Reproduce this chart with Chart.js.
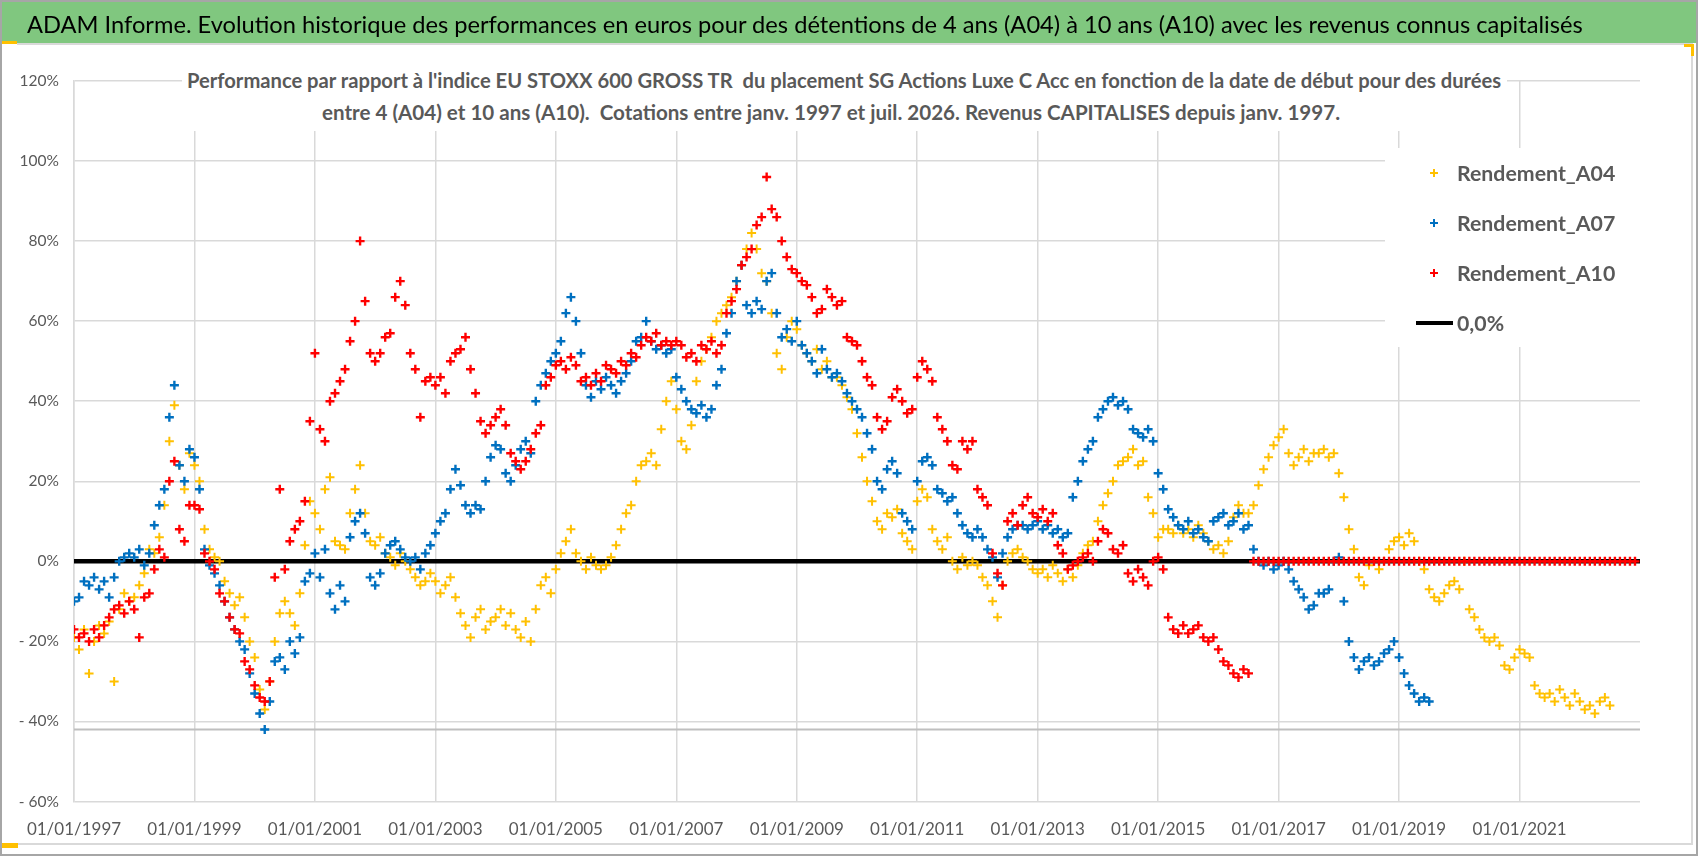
<!DOCTYPE html>
<html lang="fr">
<head>
<meta charset="UTF-8">
<title>ADAM Informe - Rendements A04 / A07 / A10</title>
<script src="https://cdn.jsdelivr.net/npm/chart.js"></script>
<style>
  html, body { margin: 0; padding: 0; background: #fff; }
  #page { position: relative; width: 1698px; height: 856px; overflow: hidden; background: #fff; }
  #graphique { position: absolute; left: 0; top: 0; width: 1698px; height: 856px; }
  .police { font-family: Lato, "Open Sans", sans-serif; }
  #bandeau { position: absolute; left: 2px; top: 2px; width: 1694px; height: 41px; background: #80c77f; line-height: 44px; white-space: pre; color: #000; }
  #bandeau span { position: absolute; left: 25px; font-size: 26px; }
  .sous-titre { position: absolute; background: #fff; white-space: pre; color: #595959; font-weight: bold; box-sizing: border-box; }
  .sous-titre span { font-size: 23px; }
  #st1 { left: 182px; top: 63px; width: 1325px; height: 35px; line-height: 34px; padding-left: 5px; }
  #st2 { left: 182px; top: 98px; width: 1325px; height: 33px; line-height: 29px; padding-left: 140px; }
  .trait { position: absolute; background: #d9d9d9; }
  .poignee { position: absolute; background: #ffc000; }
  #cadre { position: absolute; left: 0; top: 0; width: 1698px; height: 856px; box-sizing: border-box; border: 2px solid #a6a6a6; pointer-events: none; }
</style>
</head>
<body>
<div id="page">
  <canvas id="graphique" width="1698" height="856"></canvas>
  <div id="bandeau" class="police"><span id="titre">ADAM Informe. Evolution historique des performances en euros pour des détentions de 4 ans (A04) à 10 ans (A10) avec les revenus connus capitalisés</span></div>
  <div id="st1" class="sous-titre police"><span>Performance par rapport à l'indice EU STOXX 600 GROSS TR  du placement SG Actions Luxe C Acc en fonction de la date de début pour des durées</span></div>
  <div id="st2" class="sous-titre police"><span>entre 4 (A04) et 10 ans (A10).  Cotations entre janv. 1997 et juil. 2026. Revenus CAPITALISES depuis janv. 1997.</span></div>
  <div class="trait" style="left:17px; top:43px; width:1676px; height:2px;"></div>
  <div class="trait" style="left:1691px; top:43px; width:2px; height:802px;"></div>
  <div class="trait" style="left:0; top:843px; width:1693px; height:2px;"></div>
  <div class="poignee" style="left:0; top:41px; width:17px; height:3px;"></div>
  <div class="poignee" style="left:0; top:843px; width:18px; height:5px;"></div>
  <div class="poignee" style="left:1684px; top:44px; width:10px; height:3px;"></div>
  <div class="poignee" style="left:1691px; top:44px; width:3px; height:12px;"></div>
  <div id="cadre"></div>
</div>
<script>
    // Premiere valeur = janvier 1997, puis une valeur par mois (en %)
    const debut = 1997;

    // Rendement_A04 (jaune)
    const rendementA04 = [
        -19, -22, -17, -28, -20, -16, -18, -15, -30, -12, -8, -10,   // 1997
        -9, -6, -3, 3, 2, 6, 14, 30, 39, 24, 18, 27,                 // 1998
        24, 20, 8, 3, 1, 0, -5, -8, -11, -9, -14, -20,               // 1999
        -24, -32, -37, -30, -20, -13, -10, -13, -16, -8, 4, 15,      // 2000
        12, 8, 18, 21, 5, 4, 3, 12, 18, 24, 12, 5,                   // 2001
        4, 6, 2, 1, -1, 2, 0, -2, -4, -6, -5, -3,                    // 2002
        -5, -8, -6, -4, -9, -13, -16, -19, -14, -12, -17, -15,       // 2003
        -14, -12, -16, -13, -17, -19, -15, -20, -12, -6, -4, -8,     // 2004
        -2, 2, 5, 8, 2, 0, -2, 1, -1, -2, -1, 1,                     // 2005
        4, 8, 12, 14, 20, 24, 25, 27, 24, 33, 40, 45,                // 2006
        38, 30, 28, 34, 45, 50, 53, 56, 60, 62, 64, 66,              // 2007
        70, 74, 78, 82, 78, 72, 70, 62, 52, 48, 56, 60,              // 2008
        58, 54, 52, 50, 53, 48, 50, 46, 46, 44, 41, 38,              // 2009
        32, 26, 20, 15, 10, 8, 12, 11, 13, 7, 5, 3,                  // 2010
        15, 18, 16, 8, 5, 3, 6, 0, -2, 1, -1, 0,                     // 2011
        -1, -4, -6, -10, -14, -6, 0, 2, 3, 1, 0, -2,                 // 2012
        -3, -2, -4, -1, -3, -5, -2, -4, -1, 2, 4, 5,                 // 2013
        10, 14, 17, 20, 24, 25, 26, 28, 24, 25, 16, 12,              // 2014
        6, 8, 8, 7, 9, 7, 8, 6, 9, 7, 5, 3,                          // 2015
        4, 2, 5, 11, 14, 12, 12, 14, 19, 23, 26, 29,                 // 2016
        31, 33, 27, 24, 26, 28, 25, 27, 27, 28, 26, 27,              // 2017
        22, 16, 8, 3, -4, -6, -1, 0, -2, 0, 3, 5,                    // 2018
        6, 4, 7, 5, 0, -2, -7, -9, -10, -8, -6, -5,                  // 2019
        -7, 0, -12, -14, -17, -19, -20, -19, -21, -26, -27, -24,     // 2020
        -22, -23, -24, -31, -33, -34, -33, -35, -32, -34, -36, -33,  // 2021
        -35, -37, -36, -38, -35, -34, -36                            // 2022
    ];

    // Rendement_A07 (bleu)
    const rendementA07 = [
        -10, -9, -5, -6, -4, -7, -5, -9, -4, 0, 1, 2,                // 1997
        1, 3, -1, 2, 9, 14, 18, 36, 44, 24, 20, 28,                  // 1998
        26, 18, 3, -1, -3, -6, -10, -14, -17, -20, -22, -28,         // 1999
        -33, -38, -42, -35, -25, -24, -27, -20, -23, -19, -5, -3,    // 2000
        2, -4, 3, -8, -12, -6, -10, 6, 10, 12, 7, -4,                // 2001
        -6, -3, 2, 4, 5, 3, 1, 0, 1, -2, 2, 4,                       // 2002
        7, 10, 12, 18, 23, 19, 14, 12, 14, 13, 20, 26,               // 2003
        29, 28, 22, 20, 24, 28, 30, 27, 40, 44, 47, 50,              // 2004
        52, 55, 62, 66, 60, 52, 44, 41, 45, 43, 46, 44,              // 2005
        42, 45, 47, 50, 55, 56, 60, 55, 53, 54, 52, 53,              // 2006
        46, 43, 40, 38, 37, 39, 36, 38, 44, 48, 57, 62,              // 2007
        70, 74, 64, 62, 65, 63, 70, 72, 62, 56, 58, 55,              // 2008
        60, 54, 52, 50, 47, 53, 48, 46, 47, 45, 42, 40,              // 2009
        38, 36, 32, 28, 20, 18, 23, 25, 22, 12, 10, 8,               // 2010
        20, 25, 26, 24, 18, 17, 15, 16, 12, 9, 7, 6,                 // 2011
        8, 6, 3, 1, -4, 2, 6, 8, 9, 9, 8, 9,                         // 2012
        10, 8, 9, 7, 8, 6, 7, 16, 20, 25, 28, 30,                    // 2013
        36, 38, 40, 41, 39, 40, 38, 33, 32, 31, 33, 30,              // 2014
        22, 18, 13, 11, 9, 8, 10, 7, 8, 6, 5, 10,                    // 2015
        11, 12, 9, 10, 12, 8, 9, 3, 0, -1, 0, -2,                    // 2016
        -1, 0, -2, -5, -7, -9, -12, -11, -8, -8, -7, 0,              // 2017
        1, -10, -20, -24, -27, -25, -24, -26, -25, -23, -22, -20,    // 2018
        -24, -28, -31, -33, -35, -34, -35                            // 2019
    ];

    // Rendement_A10 (rouge) : valeurs nulles a partir d'aout 2016
    const rendementA10 = [
        -17, -19, -18, -20, -17, -19, -16, -14, -12, -11, -13, -10,  // 1997
        -12, -19, -9, -8, -2, 3, 1, 20, 25, 8, 5, 14,                // 1998
        14, 13, 2, 0, -2, -8, -10, -14, -17, -18, -25, -27,          // 1999
        -31, -34, -35, -30, -4, 18, -2, 5, 8, 10, 15, 35,            // 2000
        52, 33, 30, 40, 42, 45, 48, 55, 60, 80, 65, 52,              // 2001
        50, 52, 56, 57, 66, 70, 64, 52, 48, 36, 45, 46,              // 2002
        44, 46, 42, 50, 52, 53, 56, 48, 42, 35, 32, 34,              // 2003
        36, 38, 34, 27, 25, 23, 25, 28, 32, 34, 44, 46,              // 2004
        49, 50, 48, 51, 49, 45, 46, 44, 47, 45, 49, 48,              // 2005
        47, 50, 49, 52, 51, 54, 56, 55, 57, 54, 55, 54,              // 2006
        55, 54, 51, 52, 50, 54, 53, 55, 52, 54, 62, 65,              // 2007
        68, 74, 76, 78, 84, 86, 96, 88, 86, 80, 76, 73,              // 2008
        72, 70, 69, 66, 62, 63, 68, 66, 64, 65, 56, 55,              // 2009
        54, 50, 46, 44, 36, 33, 35, 41, 43, 40, 37, 38,              // 2010
        46, 50, 48, 45, 36, 33, 30, 24, 23, 30, 28, 30,              // 2011
        18, 16, 14, 2, -3, -6, 10, 12, 9, 14, 16, 12,                // 2012
        11, 13, 10, 12, 4, 2, -2, -1, 0, 1, 2, 0,                    // 2013
        5, 8, 7, 3, 2, 4, -3, -5, -2, -4, -6, 0,                     // 2014
        1, -2, -14, -17, -18, -16, -18, -17, -16, -19, -20, -19,     // 2015
        -22, -25, -26, -28, -29, -27, -28, 0, 0, 0, 0, 0,            // 2016
        0, 0, 0, 0, 0, 0, 0, 0, 0, 0, 0, 0,                          // 2017
        0, 0, 0, 0, 0, 0, 0, 0, 0, 0, 0, 0,                          // 2018
        0, 0, 0, 0, 0, 0, 0, 0, 0, 0, 0, 0,                          // 2019
        0, 0, 0, 0, 0, 0, 0, 0, 0, 0, 0, 0,                          // 2020
        0, 0, 0, 0, 0, 0, 0, 0, 0, 0, 0, 0,                          // 2021
        0, 0, 0, 0, 0, 0, 0, 0, 0, 0, 0, 0                           // 2022
    ];

    // lignes horizontales : 0,0% et le trait gris sous -40%
    const bornesDates = [1997, 2023];
    const ligneZero = [0, 0];
    const ligneGrise = [-42, -42];

    // graduations
    const anneesGraduees = [1997, 1999, 2001, 2003, 2005, 2007, 2009, 2011, 2013, 2015, 2017, 2019, 2021];
    const graduationsY = [-60, -40, -20, 0, 20, 40, 60, 80, 100, 120];

    const POLICE = 'Lato, "Open Sans", sans-serif';

    function enPoints(valeurs) {
        return valeurs.map((v, i) => ({ x: debut + i / 12, y: v }));
    }
    function ligne(valeurs) {
        return valeurs.map((v, i) => ({ x: bornesDates[i], y: v }));
    }

    // legende dessinee dans la zone du graphique (fond blanc)
    const legendeInterne = {
        id: 'legendeInterne',
        afterDraw(chart) {
            const ctx = chart.ctx;
            const zone = chart.chartArea;
            const x0 = zone.right - 255;
            const y0 = zone.top + 67;
            ctx.save();
            ctx.fillStyle = '#ffffff';
            ctx.fillRect(x0, y0, 255, 199);
            // taille de police pour que "Rendement_A04" fasse environ 158 px
            ctx.font = 'bold 22px ' + POLICE;
            const taille = 22 * 158 / ctx.measureText('Rendement_A04').width;
            ctx.font = 'bold ' + taille.toFixed(1) + 'px ' + POLICE;
            ctx.fillStyle = '#595959';
            ctx.textBaseline = 'middle';
            let y = y0 + 25;
            chart.data.datasets.forEach(ds => {
                if (!ds.label) return;
                ctx.strokeStyle = ds.borderColor;
                if (ds.showLine) {
                    ctx.lineWidth = 4;
                    ctx.beginPath();
                    ctx.moveTo(x0 + 31, y);
                    ctx.lineTo(x0 + 68, y);
                    ctx.stroke();
                } else {
                    ctx.lineWidth = ds.borderWidth > 2 ? 2 : ds.borderWidth;
                    ctx.beginPath();
                    ctx.moveTo(x0 + 45, y);
                    ctx.lineTo(x0 + 53, y);
                    ctx.moveTo(x0 + 49, y - 4);
                    ctx.lineTo(x0 + 49, y + 4);
                    ctx.stroke();
                }
                ctx.fillText(ds.label, x0 + 72, y + 1);
                y += 50;
            });
            ctx.restore();
        }
    };

    const ctx = document.getElementById('graphique').getContext('2d');
    new Chart(ctx, {
        type: 'scatter',
        data: {
            datasets: [
                { label: 'Rendement_A04', data: enPoints(rendementA04), borderColor: '#ffc000', backgroundColor: '#ffc000',
                  pointStyle: 'cross', pointRadius: 4.5, borderWidth: 2, order: 3 },
                { label: 'Rendement_A07', data: enPoints(rendementA07), borderColor: '#0070c0', backgroundColor: '#0070c0',
                  pointStyle: 'cross', pointRadius: 4.5, borderWidth: 2.4, order: 2 },
                { label: 'Rendement_A10', data: enPoints(rendementA10), borderColor: '#ff0000', backgroundColor: '#ff0000',
                  pointStyle: 'cross', pointRadius: 4.5, borderWidth: 2.4, order: 1 },
                { label: '0,0%', data: ligne(ligneZero), borderColor: '#000000', borderWidth: 4.5,
                  showLine: true, pointRadius: 0, order: 4 },
                { label: '', data: ligne(ligneGrise), borderColor: '#bfbfbf', borderWidth: 2,
                  showLine: true, pointRadius: 0, order: 5 }
            ]
        },
        options: {
            responsive: false,
            animation: false,
            layout: { padding: { top: 81, right: 58, bottom: 0, left: 0 } },
            plugins: { legend: { display: false }, tooltip: { enabled: false } },
            scales: {
                x: {
                    type: 'linear',
                    min: bornesDates[0],
                    max: bornesDates[1],
                    afterBuildTicks: s => { s.ticks = anneesGraduees.map(v => ({ value: v })); },
                    afterFit: s => { s.height = 54.5; },
                    grid: { color: '#d9d9d9', lineWidth: 1.5, drawTicks: false },
                    border: { display: false },
                    ticks: {
                        autoSkip: false, maxRotation: 0, padding: 18, color: '#595959',
                        font: { family: POLICE, size: 17 },
                        callback: v => '01/01/' + v
                    }
                },
                y: {
                    min: graduationsY[0],
                    max: graduationsY[graduationsY.length - 1],
                    afterBuildTicks: s => { s.ticks = graduationsY.map(v => ({ value: v })); },
                    afterFit: s => { s.width = 74; },
                    grid: { color: '#d9d9d9', lineWidth: 1.5, drawTicks: false },
                    border: { color: '#d9d9d9', width: 1.5 },
                    ticks: {
                        padding: 15, color: '#595959',
                        font: { family: POLICE, size: 15.5 },
                        callback: v => v < 0 ? '- ' + Math.abs(v) + '%' : v + '%'
                    }
                }
            }
        },
        plugins: [legendeInterne]
    });

    // ajuste la taille des textes HTML a la largeur du modele
    function ajuster(span, largeurCible) {
        const taille = parseFloat(getComputedStyle(span).fontSize);
        const largeur = span.getBoundingClientRect().width;
        if (largeur > 0) span.style.fontSize = (taille * largeurCible / largeur).toFixed(2) + 'px';
    }
    ajuster(document.getElementById('titre'), 1557);
    ajuster(document.querySelector('#st1 span'), 1315);
    ajuster(document.querySelector('#st2 span'), 1018);
</script>
</body>
</html>
